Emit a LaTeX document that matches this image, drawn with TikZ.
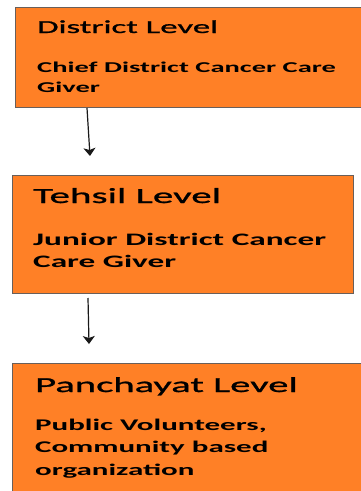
\documentclass[tikz,border=0pt]{standalone}
\usepackage{fontspec}
\setmainfont{Carlito}
\newfontfamily\stretchfont[FakeStretch=1.9]{Carlito}
\newfontfamily\titlefont[FakeStretch=1.9,FakeBold=1.2]{Carlito}
\usetikzlibrary{arrows.meta}
\definecolor{boxorange}{RGB}{255,128,38}
\definecolor{boxedge}{RGB}{105,95,90}
\tikzset{
  levelbox/.style={draw=boxedge,line width=1pt,fill=boxorange},
  titletext/.style={anchor=base west,inner sep=0pt,font=\titlefont\fontsize{#1}{24}\selectfont},
  bodytext/.style={anchor=base west,inner sep=0pt,font=\stretchfont\bfseries\fontsize{#1}{18}\selectfont},
  flow/.style={draw=black!90,line width=1.2pt,-{Stealth[length=8pt,width=12pt,inset=2pt]}}
}
\begin{document}
\begin{tikzpicture}[x=1pt,y=-1pt]
\useasboundingbox (0,0) rectangle (361,491);
\clip (0,0) rectangle (361,491);
% boxes
\draw[levelbox] (15,7) rectangle (375,107);
\draw[levelbox] (12,175) rectangle (353,293);
\draw[levelbox] (12,363) rectangle (375,500);
% texts
\node[titletext=18.3] (t1) at (37,33) {District Level};
\node[bodytext=15] (b1a) at (37,72) {Chief District Cancer Care};
\node[bodytext=15] (b1b) at (37,92) {Giver};
\node[titletext=21.6] (t2) at (33,203) {Tehsil Level};
\node[bodytext=17.5] (b2a) at (33,245) {Junior District Cancer};
\node[bodytext=17.5] (b2b) at (33,267) {Care Giver};
\node[titletext=21.4] (t3) at (35,392) {Panchayat Level};
\node[bodytext=16.3] (b3a) at (35,430) {Public Volunteers,};
\node[bodytext=16.3] (b3b) at (35,452) {Community based};
\node[bodytext=16.3] (b3c) at (35,475) {organization};
% arrows
\coordinate (a1s) at (87,108);
\coordinate (a1e) at (90,156);
\coordinate (a2s) at (88,298);
\coordinate (a2e) at (89,344);
\draw[flow] (a1s) -- (a1e);
\draw[flow] (a2s) -- (a2e);
\end{tikzpicture}
\end{document}
